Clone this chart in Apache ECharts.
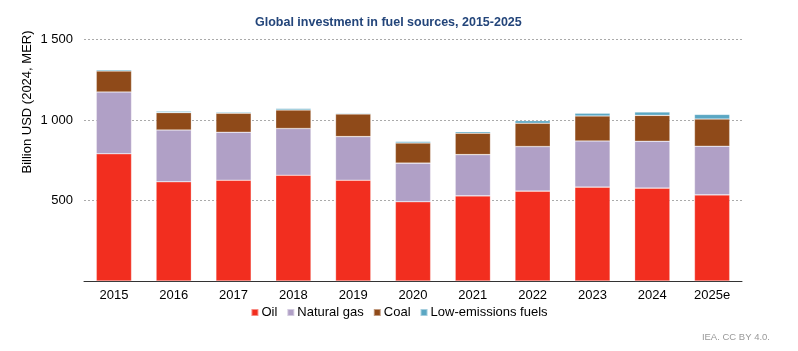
<!DOCTYPE html>
<html>
<head>
<meta charset="utf-8">
<script src="https://cdn.jsdelivr.net/npm/echarts@6/dist/echarts.min.js"></script>
<style>
  html, body { margin: 0; padding: 0; background: #fff; }
  #chart { width: 798px; height: 351px; }
</style>
</head>
<body>
<div id="chart"></div>
<script>
// values, billion USD (2024, MER)
var years = ['2015', '2016', '2017', '2018', '2019', '2020', '2021', '2022', '2023', '2024', '2025e'];
var oil = [790, 616, 626, 657, 626, 492, 529, 558, 583, 577, 535];
var naturalGas = [384, 322, 298, 290, 271, 240, 256, 277, 287, 291, 302];
var coal = [130, 108, 118, 115, 140, 125, 133, 145, 155, 161, 169];
var lowEmissions = [8, 8, 6, 9, 5, 9, 10, 16, 17, 21, 29];

var font = 'Liberation Sans, Arial, sans-serif';
var chart = echarts.init(document.getElementById('chart'), null, { renderer: 'canvas' });

function bar(name, data, color) {
  return {
    name: name,
    type: 'bar',
    stack: 'total',
    data: data,
    barCategoryGap: '41%',
    itemStyle: { color: color, borderColor: 'rgba(255,255,255,0.45)', borderWidth: 0.6 },
    emphasis: { disabled: true }
  };
}

var option = {
  animation: false,
  textStyle: { fontFamily: font },
  title: {
    text: 'Global investment in fuel sources, 2015-2025',
    left: 250,
    top: 11,
    textStyle: { color: '#23457a', fontSize: 12.5, fontWeight: 'bold', fontFamily: font }
  },
  legend: {
    bottom: 27,
    left: 'center',
    itemWidth: 7,
    itemHeight: 7,
    itemGap: 9,
    icon: 'rect',
    textStyle: { fontSize: 13, color: '#000', fontFamily: font, padding: [0, 0, 0, -2] },
    data: ['Oil', 'Natural gas', 'Coal', 'Low-emissions fuels']
  },
  graphic: [
    {
      // y axis title sits near the top of the axis, not centred
      type: 'text',
      x: 27,
      y: 102,
      rotation: Math.PI / 2,
      style: {
        text: 'Billion USD (2024, MER)',
        fill: '#000',
        font: '13px ' + font,
        align: 'center',
        verticalAlign: 'middle'
      }
    },
    {
      type: 'text',
      right: 28,
      bottom: 9,
      style: { text: 'IEA. CC BY 4.0.', fill: '#999', font: '9.5px ' + font }
    }
  ],
  grid: { left: 84, right: 56, top: 39.5, bottom: 70 },
  xAxis: {
    type: 'category',
    data: years,
    axisTick: { show: false },
    axisLine: { lineStyle: { color: '#333', width: 1 } },
    axisLabel: { color: '#000', fontSize: 13, margin: 8, fontFamily: font }
  },
  yAxis: {
    type: 'value',
    min: 0,
    max: 1500,
    interval: 500,
    axisLine: { show: false },
    axisTick: { show: false },
    axisLabel: {
      color: '#000',
      fontSize: 13,
      margin: 11,
      fontFamily: font,
      formatter: function (v) {
        if (v === 0) return '';
        return v >= 1000 ? Math.floor(v / 1000) + ' ' + String(v % 1000).padStart(3, '0') : String(v);
      }
    },
    splitLine: { lineStyle: { color: '#aaa', type: [2, 2], width: 1 } }
  },
  series: [
    bar('Oil', oil, '#f22e1f'),
    bar('Natural gas', naturalGas, '#b0a0c6'),
    bar('Coal', coal, '#8f4a19'),
    bar('Low-emissions fuels', lowEmissions, '#5ba7c3')
  ]
};
chart.setOption(option);
</script>
</body>
</html>
